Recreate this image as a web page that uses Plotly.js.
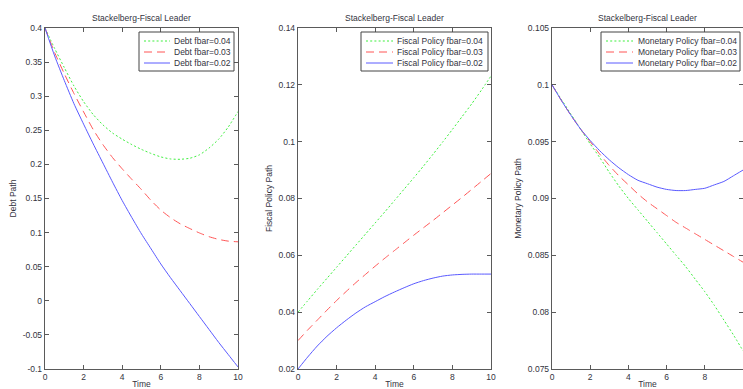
<!DOCTYPE html>
<html>
<head>
<meta charset="utf-8">
<script src="https://cdn.plot.ly/plotly-3.0.1.min.js"></script>
<style>
html,body{margin:0;padding:0;background:#fff;overflow:hidden;}
#chart{width:743px;height:389px;}
</style>
</head>
<body>
<div id="chart"></div>
<script>
// ---- data ----
const time = [0,0.5,1,1.5,2,2.5,3,3.5,4,4.5,5,5.5,6,6.5,7,7.5,8,8.5,9,9.5,10];

const debt04 = [0.400,0.370,0.342,0.315,0.292,0.273,0.258,0.246,0.237,0.229,0.222,0.216,0.211,0.208,0.2075,0.209,0.214,0.224,0.237,0.255,0.2775];
const debt03 = [0.400,0.364,0.333,0.304,0.277,0.251,0.229,0.210,0.1935,0.178,0.163,0.147,0.133,0.122,0.113,0.106,0.0995,0.094,0.090,0.0875,0.0865];
const debt02 = [0.400,0.359,0.323,0.289,0.259,0.230,0.202,0.174,0.147,0.122,0.098,0.076,0.054,0.034,0.015,-0.004,-0.023,-0.042,-0.061,-0.079,-0.097];

const fiscal04 = [0.0400,0.0440,0.0480,0.0519,0.0558,0.0597,0.0636,0.0675,0.0714,0.0753,0.0793,0.0833,0.0873,0.0914,0.0956,0.0999,0.1043,0.1088,0.1133,0.1181,0.1231];
const fiscal03 = [0.0300,0.0337,0.0372,0.0407,0.0441,0.0473,0.0504,0.0533,0.0562,0.0590,0.0617,0.0644,0.0671,0.0697,0.0723,0.0750,0.0777,0.0804,0.0832,0.0860,0.0888];
const fiscal02 = [0.0200,0.0242,0.0281,0.0315,0.0345,0.0372,0.0397,0.0419,0.0437,0.0455,0.0471,0.0486,0.0500,0.0511,0.0520,0.0527,0.0531,0.0533,0.0534,0.0534,0.0534];

const monetary04 = [0.1000,0.0987,0.0974,0.0961,0.0948,0.0936,0.0923,0.0911,0.0900,0.0890,0.0880,0.0870,0.0860,0.0850,0.0840,0.0829,0.0818,0.0806,0.0793,0.0780,0.0766];
const monetary03 = [0.1000,0.0986,0.0973,0.0961,0.0950,0.0939,0.0929,0.0920,0.0912,0.0904,0.0897,0.0891,0.0885,0.0879,0.0874,0.0869,0.0864,0.0859,0.0854,0.0849,0.0844];
const monetary02 = [0.1000,0.0986,0.0973,0.0961,0.0951,0.0942,0.0934,0.0927,0.0921,0.0916,0.0913,0.0910,0.0908,0.0907,0.0907,0.0908,0.0909,0.0912,0.0915,0.0920,0.0925];

const panelTitles = ["Stackelberg-Fiscal Leader","Stackelberg-Fiscal Leader","Stackelberg-Fiscal Leader"];
const yTitles = ["Debt Path","Fiscal Policy Path","Monetary Policy Path"];
const xTitle = "Time";
const seriesNames1 = ["Debt fbar=0.04","Debt fbar=0.03","Debt fbar=0.02"];
const seriesNames2 = ["Fiscal Policy fbar=0.04","Fiscal Policy fbar=0.03","Fiscal Policy fbar=0.02"];
const seriesNames3 = ["Monetary Policy fbar=0.04","Monetary Policy fbar=0.03","Monetary Policy fbar=0.02"];

const xTickVals = [0,2,4,6,8,10];
const xTickText = ["0","2","4","6","8","10"];
const y1TickVals = [-0.1,-0.05,0,0.05,0.1,0.15,0.2,0.25,0.3,0.35,0.4];
const y1TickText = ["-0.1","-0.05","0","0.05","0.1","0.15","0.2","0.25","0.3","0.35","0.4"];
const y2TickVals = [0.02,0.04,0.06,0.08,0.1,0.12,0.14];
const y2TickText = ["0.02","0.04","0.06","0.08","0.1","0.12","0.14"];
const y3TickVals = [0.075,0.08,0.085,0.09,0.095,0.1,0.105];
const y3TickText = ["0.075","0.08","0.085","0.09","0.095","0.1","0.105"];

// ---- styles ----
const W = 743, H = 389;
const FONT = "Liberation Sans, Arial, sans-serif";
const FS = 8.5;
const TXT = "#333340";
const AX = "#5a5a5a";
const styles = [
  {color:"#3fef3f", dash:"2px,2.2px", width:1},
  {color:"#ff5555", dash:"8px,5px", width:1},
  {color:"#5a5aff", dash:"solid", width:1}
];

function mk(y, name, s, xa, ya){
  return {x: time, y: y, name: name, type:"scatter", mode:"lines",
    xaxis: xa, yaxis: ya, showlegend:false,
    line: {color: s.color, dash: s.dash, width: s.width, shape:"spline", smoothing:0.6}, hoverinfo:"skip"};
}

const names = [seriesNames1, seriesNames2, seriesNames3];
const traces = [
  mk(debt04, seriesNames1[0], styles[0], "x", "y"),
  mk(debt03, seriesNames1[1], styles[1], "x", "y"),
  mk(debt02, seriesNames1[2], styles[2], "x", "y"),
  mk(fiscal04, seriesNames2[0], styles[0], "x2", "y2"),
  mk(fiscal03, seriesNames2[1], styles[1], "x2", "y2"),
  mk(fiscal02, seriesNames2[2], styles[2], "x2", "y2"),
  mk(monetary04, seriesNames3[0], styles[0], "x3", "y3"),
  mk(monetary03, seriesNames3[1], styles[1], "x3", "y3"),
  mk(monetary02, seriesNames3[2], styles[2], "x3", "y3")
];

// pixel layout
const plotTop = 28, plotBottom = 369;
const doms = [[45,238],[298,491],[552,743]];
const px = v => v / W;
const py = v => (plotBottom - v) / (plotBottom - plotTop);

function xaxis(i){
  return {domain:[px(doms[i][0]), px(doms[i][1])], range:[0,10], anchor: i===0?"y":"y"+(i+1),
    tickvals:xTickVals, ticktext:xTickText, ticks:"inside", ticklen:4, tickcolor:AX,
    showline:true, linecolor:AX, linewidth:1.2, mirror:"ticks", showgrid:false, zeroline:false,
    tickfont:{family:FONT,size:FS,color:TXT},
    title:{text:xTitle, font:{family:FONT,size:FS,color:TXT}, standoff:4}};
}
function yaxis(i, range, tv, tt){
  return {domain:[0,1], range:range, anchor: i===0?"x":"x"+(i+1),
    tickvals:tv, ticktext:tt, ticks:"inside", ticklen:4, tickcolor:AX,
    showline:true, linecolor:AX, linewidth:1.2, mirror:"ticks", showgrid:false, zeroline:false,
    tickfont:{family:FONT,size:FS,color:TXT},
    title:{text:yTitles[i], font:{family:FONT,size:FS,color:TXT}, standoff:4}};
}

// legend boxes drawn as shapes + annotations (pixel positions)
const legBox = [[139,234],[361,488],[601,740]];
const legSample = [[144,170],[366,393],[606,633]];
const legTextX = [172,395,636];
const legRows = [41,52,63];
const legTop = 32, legBottom = 71;

const shapes = [];
const annotations = [];
for (let i = 0; i < 3; i++) {
  shapes.push({type:"rect", xref:"paper", yref:"paper", layer:"above",
    x0:px(legBox[i][0]), x1:px(legBox[i][1]), y0:py(legBottom), y1:py(legTop),
    fillcolor:"#ffffff", line:{color:"#444444", width:1}});
  for (let k = 0; k < 3; k++) {
    shapes.push({type:"line", xref:"paper", yref:"paper", layer:"above",
      x0:px(legSample[i][0]), x1:px(legSample[i][1]), y0:py(legRows[k]), y1:py(legRows[k]),
      line:{color:styles[k].color, dash:styles[k].dash, width:styles[k].width}});
    annotations.push({text:names[i][k], xref:"paper", yref:"paper",
      x:px(legTextX[i]), y:py(legRows[k]), xanchor:"left", yanchor:"middle",
      showarrow:false, font:{family:FONT,size:FS,color:TXT}});
  }
  annotations.push({text: panelTitles[i], xref:"paper", yref:"paper",
    x: px((doms[i][0]+doms[i][1])/2), y: py(18), xanchor:"center", yanchor:"middle",
    showarrow:false, font:{family:FONT,size:FS,color:TXT}});
}

const layout = {
  width: W, height: H,
  margin: {l:0, r:0, t:plotTop, b:H-plotBottom, pad:0},
  paper_bgcolor:"#ffffff", plot_bgcolor:"#ffffff",
  font:{family:FONT, size:FS, color:TXT},
  showlegend:false,
  xaxis: xaxis(0), xaxis2: xaxis(1), xaxis3: xaxis(2),
  yaxis: yaxis(0,[-0.1,0.4],y1TickVals,y1TickText),
  yaxis2: yaxis(1,[0.02,0.14],y2TickVals,y2TickText),
  yaxis3: yaxis(2,[0.075,0.105],y3TickVals,y3TickText),
  shapes: shapes,
  annotations: annotations
};

Plotly.newPlot("chart", traces, layout, {displayModeBar:false, staticPlot:true});
</script>
</body>
</html>
